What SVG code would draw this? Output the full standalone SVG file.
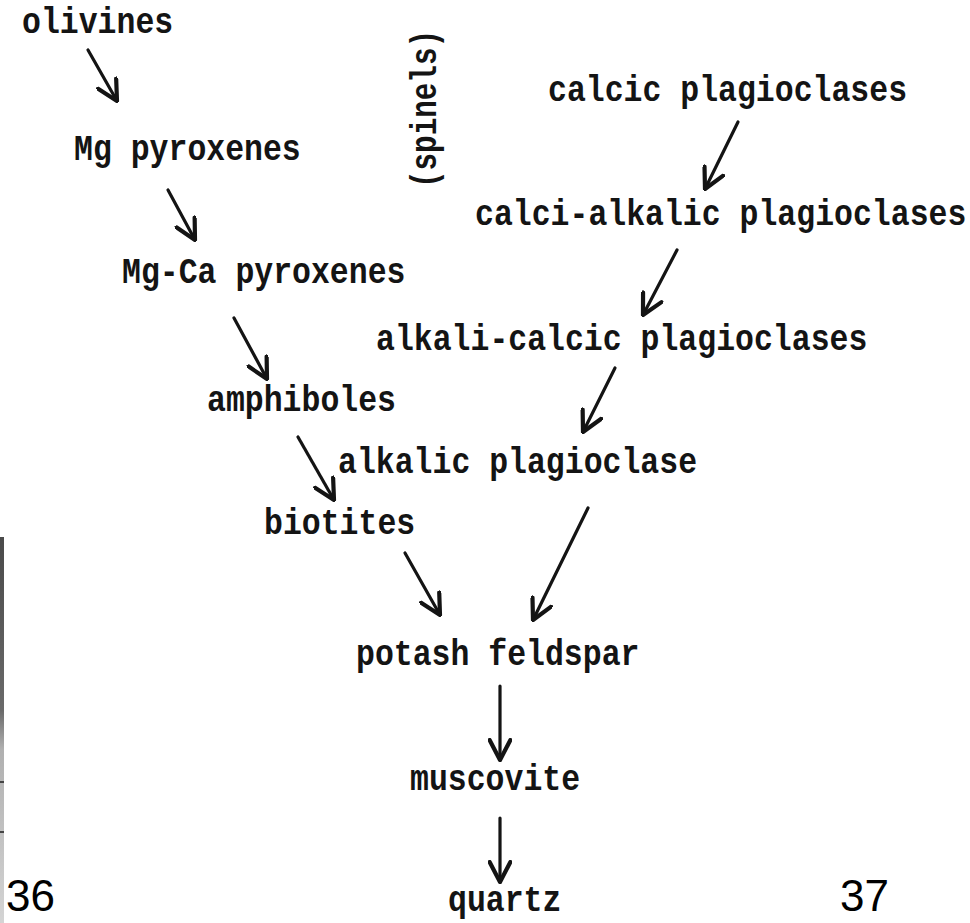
<svg xmlns="http://www.w3.org/2000/svg" width="970" height="923" viewBox="0 0 970 923">
<style>
.t{font-family:"Liberation Mono","Courier New",monospace;font-weight:bold;font-size:31.5px;fill:#141414}
.n{font-family:"Liberation Sans",Arial,sans-serif;font-size:44px;fill:#000}
.a{fill:none;stroke:#141414;stroke-width:3.2;stroke-linecap:round;marker-end:url(#v)}
</style>
<defs>
<marker id="v" viewBox="0 0 12 12" refX="11" refY="6" markerWidth="7.5" markerHeight="7.5" markerUnits="strokeWidth" orient="auto">
<path d="M1,0.8 L11,6 L1,11.2" fill="none" stroke="#141414" stroke-width="2.1" stroke-linecap="round" stroke-linejoin="round"/>
</marker>
<linearGradient id="strip" x1="0" y1="0" x2="0" y2="1">
<stop offset="0" stop-color="#4a4a4a"/>
<stop offset="0.45" stop-color="#6a6a6a"/>
<stop offset="0.55" stop-color="#b0b0b0"/>
<stop offset="1" stop-color="#d4d4d4"/>
</linearGradient>
</defs>
<rect width="970" height="923" fill="#fff"/>
<rect x="0" y="537" width="4" height="386" fill="url(#strip)"/>
<rect x="0" y="781" width="4" height="2" fill="#444"/>
<rect x="0" y="831" width="4" height="2" fill="#444"/>

<g id="olivines"><text class="t" transform="translate(22,33) scale(1,1.2)">olivines</text></g>
<g id="mg-pyroxenes"><text class="t" transform="translate(74,160) scale(1,1.2)">Mg pyroxenes</text></g>
<g id="mgca-pyroxenes"><text class="t" transform="translate(122,283) scale(1,1.2)">Mg-Ca pyroxenes</text></g>
<g id="amphiboles"><text class="t" transform="translate(207,411) scale(1,1.2)">amphiboles</text></g>
<g id="biotites"><text class="t" transform="translate(264,534) scale(1,1.2)">biotites</text></g>
<g id="spinels"><text class="t" transform="translate(436,188) rotate(-90) scale(1,1.2)" textLength="158" lengthAdjust="spacingAndGlyphs">(spinels)</text></g>
<g id="calcic"><text class="t" transform="translate(548,101) scale(1,1.2)">calcic plagioclases</text></g>
<g id="calci-alkalic"><text class="t" transform="translate(475,225) scale(1,1.2)">calci-alkalic plagioclases</text></g>
<g id="alkali-calcic"><text class="t" transform="translate(376,350) scale(1,1.2)">alkali-calcic plagioclases</text></g>
<g id="alkalic"><text class="t" transform="translate(338,473) scale(1,1.2)">alkalic plagioclase</text></g>
<g id="potash"><text class="t" transform="translate(356,665) scale(1,1.2)">potash feldspar</text></g>
<g id="muscovite"><text class="t" transform="translate(410,790) scale(1,1.2)">muscovite</text></g>
<g id="quartz"><text class="t" transform="translate(448,911) scale(1,1.2)">quartz</text></g>

<g id="connectors">
<line class="a" x1="88" y1="50" x2="117" y2="101"/>
<line class="a" x1="168" y1="190" x2="195" y2="240"/>
<line class="a" x1="234" y1="318" x2="267" y2="379"/>
<line class="a" x1="298" y1="437" x2="334" y2="500"/>
<line class="a" x1="405" y1="553" x2="440" y2="615"/>
<line class="a" x1="738" y1="122" x2="705" y2="189"/>
<line class="a" x1="677" y1="250" x2="643" y2="315"/>
<line class="a" x1="615" y1="368" x2="583" y2="432"/>
<line class="a" x1="588" y1="508" x2="533" y2="620"/>
<line class="a" x1="500" y1="686" x2="500" y2="760"/>
<line class="a" x1="500" y1="818" x2="500" y2="882"/>
</g>

<g id="page-36"><text class="n" x="6" y="911">36</text></g>
<g id="page-37"><text class="n" x="840" y="911">37</text></g>
</svg>
